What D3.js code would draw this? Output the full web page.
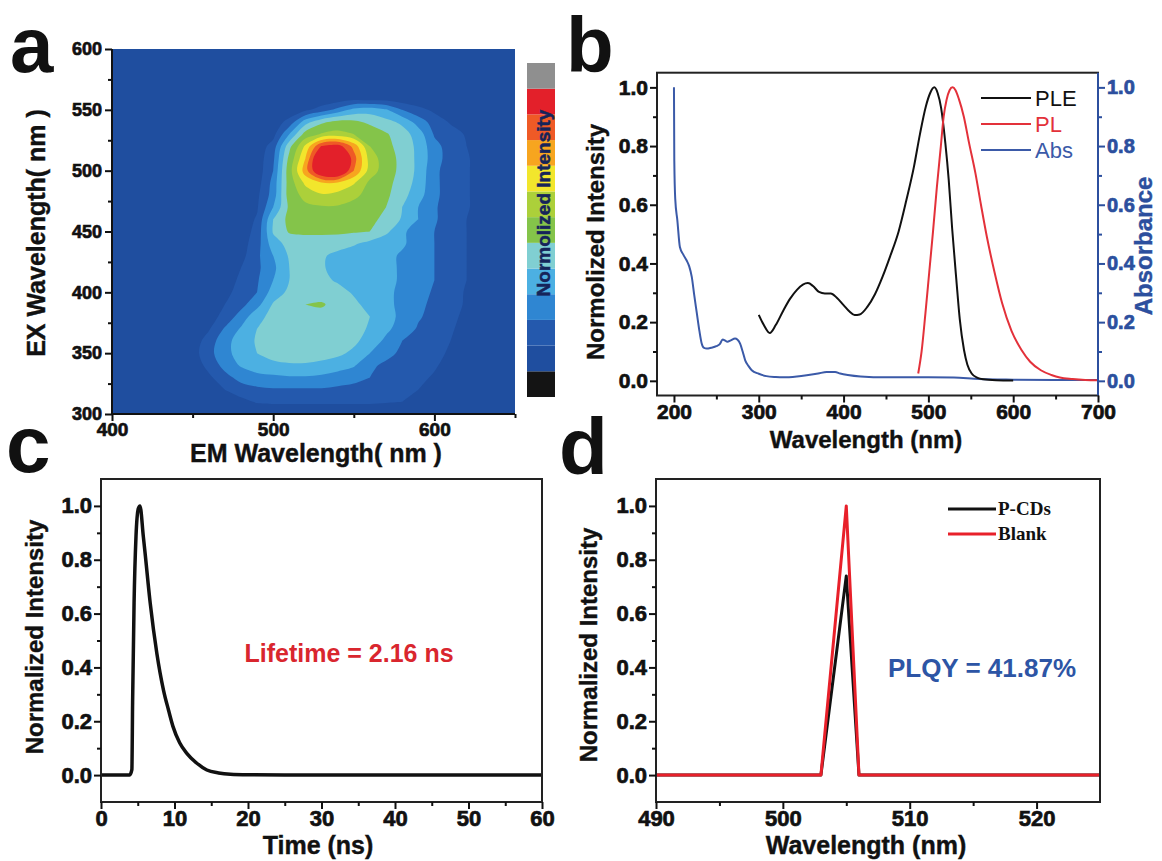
<!DOCTYPE html>
<html>
<head>
<meta charset="utf-8">
<script src="https://cdnjs.cloudflare.com/ajax/libs/d3/7.8.5/d3.min.js"></script>
<style>
  body { margin: 0; background: #fff; }
  svg { display: block; }
</style>
</head>
<body>
<svg id="fig" width="1162" height="861"></svg>
<script>
// ---------------- data ----------------
// (a) excitation–emission map, normalized intensity (%) on a 10 nm grid
const emGrid = [440,450,460,470,480,490,500,510,520,530,540,550,560,570,580,590,600,610,620,630,640];
const exGrid = [600,590,580,570,560,550,540,530,520,510,500,490,480,470,460,450,440,430,420,410,400,390,380,370,360,350,340,330,320,310,300];
const intensityGrid = [
  [0,0,0,0,0,0,0,0,0,0,0,0,0,0,0,0,0,0,0,0,0],
  [0,0,0,0,0,0,0,0,0,0,0,0,0,0,0,0,0,0,0,0,0],
  [0,0,0,0,0,0,0,0,0,0,0,0,0,0,0,0,0,0,0,0,0],
  [0,0,0,0,0,0,0,0,0,0,0,1,2,1,0,0,0,0,0,0,0],
  [0,0,0,0,0,0,0,0,0,1,2,4,3,3,2,1,0,0,0,0,0],
  [0,0,0,0,0,0,1,3,7,13,21,30,32,28,18,12,7,3,1,0,0],
  [0,0,0,0,0,1,4,12,32,43,48,47,43,39,34,23,14,8,4,1,0],
  [0,0,0,0,0,2,6,27,49,56,58,55,51,46,40,32,17,13,8,4,1],
  [0,0,0,0,0,3,13,42,66,92,96,79,55,48,41,34,21,14,9,5,1],
  [0,0,0,0,0,4,16,48,73,110,115,86,60,50,42,34,22,14,10,5,1],
  [0,0,0,0,0,4,18,51,78,105,108,82,60,50,42,34,20,14,10,5,1],
  [0,0,0,0,1,5,21,50,66,72,72,65,53,48,41,33,20,14,10,5,1],
  [0,0,0,0,2,7,22,50,58,63,61,57,52,47,39,31,20,14,10,5,1],
  [0,0,0,0,3,8,27,47,53,54,54,52,49,45,36,27,19,14,10,5,1],
  [0,0,0,1,4,10,36,48,52,52,52,50,47,43,35,27,19,14,9,5,1],
  [0,0,0,1,4,12,37,46,47,47,47,46,45,38,29,22,18,13,9,4,1],
  [0,0,0,2,5,14,32,39,40,40,39,37,33,30,28,24,18,13,9,4,1],
  [0,0,0,2,6,16,27,37,39,37,34,31,30,29,26,22,18,13,9,4,1],
  [0,0,1,3,9,16,25,36,39,37,33,31,30,29,26,22,18,13,9,4,1],
  [0,0,1,4,11,17,27,36,39,38,35,31,30,29,26,22,18,13,9,4,1],
  [0,0,2,6,13,18,31,38,41,41,39,35,31,29,25,21,17,13,8,4,1],
  [0,1,4,9,15,24,37,41,45,46,42,38,33,29,25,20,16,12,8,4,1],
  [0,1,5,12,22,33,39,41,42,42,41,39,36,30,25,19,15,11,7,3,0],
  [0,2,8,19,28,36,40,42,42,42,41,39,35,29,23,17,14,10,6,3,0],
  [0,4,13,24,31,37,40,41,41,41,40,38,32,25,18,15,12,9,5,2,0],
  [0,5,15,24,31,36,39,40,40,39,38,34,27,21,16,14,11,8,4,1,0],
  [0,3,12,21,28,32,34,35,35,34,31,28,20,16,14,12,10,6,3,0,0],
  [0,1,7,15,21,24,25,26,26,25,23,21,18,15,13,11,8,4,1,0,0],
  [0,0,3,9,14,16,17,17,17,17,16,15,14,13,11,9,6,3,0,0,0],
  [0,0,0,2,6,10,11,11,11,11,11,11,11,10,9,6,3,1,0,0,0],
  [0,0,0,0,0,0,0,0,0,0,0,0,0,0,0,0,0,0,0,0,0]
];
const levelThresholds = [9,18,27,36,45,55,64,73,82,91];
const backgroundColor = "#1f4e9f";
const levelColors = ["#2459ad","#2f86d2","#4cb0e2","#80cfd2","#84c44a","#acd03a","#f2e62c","#f7a51f","#ef5a26","#e3202a"];
const underColor = "#141414";
const overColor = "#8f8f8f";
const aXTicks = [400,500,600], aXMinor = [450,550,650];
const aYTicks = [300,350,400,450,500,550,600], aYMinor = [325,375,425,475,525,575];

// (b) excitation, emission and absorption spectra
const pleNm  = [300,306,313,320,329,337,345,352,358,364,371,378,385,392,400,407,413,419,428,437,446,455,465,474,483,490,497,502,507,511,515,520,524,528,533,537,542,546,551,558,565,580,600];
const pleVal = [0.225,0.19,0.163,0.19,0.24,0.28,0.31,0.328,0.333,0.323,0.303,0.298,0.298,0.283,0.258,0.236,0.224,0.226,0.252,0.295,0.355,0.425,0.51,0.615,0.73,0.84,0.935,0.98,1.0,0.98,0.93,0.81,0.684,0.52,0.343,0.21,0.105,0.055,0.025,0.01,0.005,0.002,0.001];
const plNm  = [488,492,496.5,501,505.5,510,514.7,518,521.4,525,528.5,532,536,541.8,548,555.5,562,569,578,587,598,609.8,620,632.6,645,655,670,685,700];
const plVal = [0.025,0.1,0.23,0.37,0.51,0.66,0.8,0.9,0.957,0.99,1.0,0.99,0.96,0.9,0.81,0.707,0.6,0.49,0.37,0.264,0.17,0.105,0.065,0.036,0.02,0.011,0.006,0.003,0.002];
const absNm  = [200,200.4,201.5,204,207,211,215,218,221,224,227,230,232.7,235.5,238.6,244,250,254,257.5,260,263,267,272,275,278,281,284,288,291.7,300,309,320,329,345,356.5,370,380,390,396,405,420,450,500,530,560,600,650,700];
const absVal = [1.0,0.75,0.62,0.547,0.456,0.43,0.41,0.39,0.354,0.29,0.23,0.17,0.127,0.112,0.11,0.113,0.118,0.125,0.141,0.138,0.133,0.138,0.144,0.14,0.127,0.1,0.07,0.05,0.036,0.024,0.016,0.013,0.012,0.015,0.019,0.025,0.03,0.03,0.025,0.02,0.015,0.012,0.012,0.011,0.006,0.004,0.003,0.003];
const bXTicks = [200,300,400,500,600,700], bXMinor = [250,350,450,550,650];
const intTicks = [0,0.2,0.4,0.6,0.8,1.0], intMinor = [0.1,0.3,0.5,0.7,0.9];

// (c) fluorescence decay
const decayTime = [0,2,3.9,4.2,4.3,4.5,4.76,5.08,5.3,5.76,6.0,6.7,7.6,8.5,9.2,9.8,10.7,11.7,13,14.4,16,17.6,20,25,30,40,50,60];
const decayVal  = [0,0,0,0.02,0.27,0.64,0.886,0.99,1.0,0.886,0.824,0.638,0.452,0.316,0.24,0.18,0.12,0.08,0.045,0.019,0.008,0.003,0.001,0,0,0,0,0];
const cXTicks = [0,10,20,30,40,50,60], cXMinor = [5,15,25,35,45,55];

// (d) quantum-yield scatter peaks
const qyNm     = [490,495,500,503,504,505,506,510,515,520,525];
const pcdsVal  = [0,0,0,0,0.37,0.74,0,0,0,0,0];
const blankVal = [0,0,0,0,0.5,1.0,0,0,0,0,0];
const dXTicks = [490,500,510,520], dXMinor = [495,505,515];

// ---------------- drawing ----------------
const FONT = "'Liberation Sans', Arial, Helvetica, sans-serif";
const svg = d3.select("#fig");
svg.append("rect").attr("width", 1162).attr("height", 861).attr("fill", "#fff");

function axis(g, kind, scale, majors, minors, fmt, fs, color, pad) {
  const make = {bottom: d3.axisBottom, left: d3.axisLeft, right: d3.axisRight}[kind];
  const gm = g.append("g").call(make(scale).tickValues(minors).tickSize(4).tickSizeOuter(0).tickFormat(""));
  const gM = g.append("g").call(make(scale).tickValues(majors).tickSize(7).tickSizeOuter(0).tickPadding(pad).tickFormat(fmt));
  [gm, gM].forEach(s => {
    s.select(".domain").remove();
    s.selectAll("line").attr("stroke", color).attr("stroke-width", 2);
  });
  gM.selectAll("text")
    .style("font-size", fs + "px").style("font-weight", "700")
    .style("font-family", FONT).attr("fill", color)
    .attr("stroke", color).attr("stroke-width", 0.7);
}

function label(txt, x, y, opt = {}) {
  const t = svg.append("text").text(txt).attr("x", x).attr("y", y)
    .style("font-family", opt.family || FONT).style("font-size", (opt.size || 24) + "px")
    .style("font-weight", opt.weight || "700").attr("fill", opt.color || "#111")
    .attr("text-anchor", opt.anchor || "middle");
  if (opt.heavy) t.attr("stroke", opt.color || "#111").attr("stroke-width", opt.heavy);
  if (opt.rotate) t.attr("transform", `rotate(-90,${x},${y})`);
  return t;
}

const f1 = d3.format(".1f");

// ===== panel a =====
const xA = d3.scaleLinear([400, 650], [112, 515]);
const yA = d3.scaleLinear([300, 600], [414, 49]);
svg.append("clipPath").attr("id", "clipA").append("rect")
  .attr("x", 112).attr("y", 49).attr("width", 403).attr("height", 365);
const gA = svg.append("g").attr("clip-path", "url(#clipA)");
gA.append("rect").attr("x", 112).attr("y", 49).attr("width", 403).attr("height", 365).attr("fill", backgroundColor);

const nCols = emGrid.length, nRows = exGrid.length;
const emStep = emGrid[1] - emGrid[0], exStep = exGrid[1] - exGrid[0];
const bands = d3.contours().size([nCols, nRows]).thresholds(levelThresholds)(intensityGrid.flat());
const toPx = ([gx, gy]) => [xA(emGrid[0] + (gx - 0.5) * emStep), yA(exGrid[0] + (gy - 0.5) * exStep)];
const ringLine = d3.line().curve(d3.curveCatmullRomClosed.alpha(0.5));
bands.forEach((band, k) => {
  const d = band.coordinates.map(poly =>
    poly.map(ring => ringLine(ring.slice(0, -1).map(toPx))).join("")).join("");
  if (d) gA.append("path").attr("d", d).attr("fill", levelColors[k]).attr("fill-rule", "evenodd");
});

svg.append("line").attr("x1", 112).attr("x2", 112).attr("y1", 49).attr("y2", 415).attr("stroke", "#111").attr("stroke-width", 2);
svg.append("line").attr("x1", 111).attr("x2", 515).attr("y1", 414).attr("y2", 414).attr("stroke", "#111").attr("stroke-width", 2);
axis(svg.append("g").attr("transform", "translate(0,414)"), "bottom", xA, aXTicks, aXMinor, d3.format("d"), 19, "#111", 2);
axis(svg.append("g").attr("transform", "translate(112,0)"), "left", yA, aYTicks, aYMinor, d3.format("d"), 18, "#111", 3);
label("EX Wavelength( nm )", 45, 233, {rotate: true, size: 25, heavy: 0.4});
label("EM Wavelength( nm )", 316, 462, {size: 25, heavy: 0.4});

// colour bar
const cbColors = [underColor, backgroundColor, ...levelColors, overColor];
const cbY = d3.scaleLinear([0, cbColors.length], [397, 63]);
svg.append("g").selectAll("rect").data(cbColors).join("rect")
  .attr("x", 527).attr("width", 28)
  .attr("y", (d, i) => cbY(i + 1)).attr("height", (d, i) => cbY(i) - cbY(i + 1))
  .attr("fill", d => d);
label("Normolized Intensity", 550, 203, {rotate: true, size: 19, color: "#16245a", heavy: 0.5});

// ===== panel b =====
const xB = d3.scaleLinear([180, 700], [657, 1098]);
const yB = d3.scaleLinear([-0.05, 1.05], [395.5, 72.7]);
const lineB = d3.line().x(d => xB(d[0])).y(d => yB(d[1])).curve(d3.curveMonotoneX);
const absColor = "#3b5aa8", plColor = "#e3313a", rightColor = "#2c4f9e";
svg.append("path").attr("d", lineB(d3.zip(absNm, absVal))).attr("fill", "none").attr("stroke", absColor).attr("stroke-width", 2);
svg.append("path").attr("d", lineB(d3.zip(pleNm, pleVal))).attr("fill", "none").attr("stroke", "#111").attr("stroke-width", 2);
svg.append("path").attr("d", lineB(d3.zip(plNm, plVal))).attr("fill", "none").attr("stroke", plColor).attr("stroke-width", 2);
svg.append("rect").attr("x", 657).attr("y", 72.7).attr("width", 441).attr("height", 322.8)
  .attr("fill", "none").attr("stroke", "#222").attr("stroke-width", 2);
svg.append("line").attr("x1", 1098).attr("x2", 1098).attr("y1", 72.7).attr("y2", 395.5).attr("stroke", rightColor).attr("stroke-width", 2);
axis(svg.append("g").attr("transform", "translate(0,395.5)"), "bottom", xB, bXTicks, bXMinor, d3.format("d"), 21, "#111", 2);
axis(svg.append("g").attr("transform", "translate(657,0)"), "left", yB, intTicks, intMinor, f1, 21, "#111", 2);
axis(svg.append("g").attr("transform", "translate(1098,0)"), "right", yB, intTicks, intMinor, f1, 20, rightColor, 2);
label("Normolized Intensity", 604, 242, {rotate: true, size: 24, heavy: 0.4});
label("Absorbance", 1152, 246, {rotate: true, size: 24, color: rightColor, heavy: 0.4});
label("Wavelength (nm)", 866, 448, {size: 24, heavy: 0.4});

// legend b
const legB = [["PLE", "#111"], ["PL", plColor], ["Abs", absColor]];
legB.forEach(([name, col], i) => {
  const y = 98 + i * 26;
  svg.append("line").attr("x1", 981).attr("x2", 1031).attr("y1", y).attr("y2", y).attr("stroke", col).attr("stroke-width", 2);
  label(name, 1035, y + 8, {anchor: "start", weight: "400", size: 22, color: col});
});

// ===== panel c =====
const xC = d3.scaleLinear([0, 60], [101, 542]);
const yC = d3.scaleLinear([-0.1, 1.1], [802, 479]);
const lineC = d3.line().x(d => xC(d[0])).y(d => yC(d[1])).curve(d3.curveMonotoneX);
svg.append("path").attr("d", lineC(d3.zip(decayTime, decayVal))).attr("fill", "none")
  .attr("stroke", "#111").attr("stroke-width", 3.5).attr("stroke-linejoin", "round");
svg.append("rect").attr("x", 101).attr("y", 479).attr("width", 441).attr("height", 323)
  .attr("fill", "none").attr("stroke", "#222").attr("stroke-width", 2);
axis(svg.append("g").attr("transform", "translate(0,802)"), "bottom", xC, cXTicks, cXMinor, d3.format("d"), 22, "#111", 1);
axis(svg.append("g").attr("transform", "translate(101,0)"), "left", yC, intTicks, intMinor, f1, 22, "#111", 2);
label("Normalized Intensity", 43, 637, {rotate: true, size: 24, heavy: 0.4});
label("Time (ns)", 318, 854, {size: 25, heavy: 0.4});
label("Lifetime = 2.16 ns", 349, 662, {size: 25, color: "#d9262e"});

// ===== panel d =====
const xD = d3.scaleLinear([490, 525], [656, 1100]);
const yD = d3.scaleLinear([-0.1, 1.1], [802, 479]);
const lineD = d3.line().x(d => xD(d[0])).y(d => yD(d[1]));
svg.append("path").attr("d", lineD(d3.zip(qyNm, pcdsVal))).attr("fill", "none")
  .attr("stroke", "#111").attr("stroke-width", 3).attr("stroke-linejoin", "round");
svg.append("path").attr("d", lineD(d3.zip(qyNm, blankVal))).attr("fill", "none")
  .attr("stroke", "#e8202a").attr("stroke-width", 3).attr("stroke-linejoin", "round");
svg.append("rect").attr("x", 656).attr("y", 479).attr("width", 444).attr("height", 323)
  .attr("fill", "none").attr("stroke", "#222").attr("stroke-width", 2);
axis(svg.append("g").attr("transform", "translate(0,802)"), "bottom", xD, dXTicks, dXMinor, d3.format("d"), 22, "#111", 1);
axis(svg.append("g").attr("transform", "translate(656,0)"), "left", yD, intTicks, intMinor, f1, 22, "#111", 2);
label("Normalized Intensity", 597, 645, {rotate: true, size: 24, heavy: 0.4});
label("Wavelength (nm)", 866, 854, {size: 25, heavy: 0.4});
label("PLQY = 41.87%", 982, 677, {size: 26, color: "#2d55a5"});
const legD = [["P-CDs", "#111"], ["Blank", "#e8202a"]];
legD.forEach(([name, col], i) => {
  const y = 509 + i * 25;
  svg.append("line").attr("x1", 948).attr("x2", 996).attr("y1", y).attr("y2", y).attr("stroke", col).attr("stroke-width", 3);
  label(name, 998, y + 6, {anchor: "start", size: 19, family: "'Liberation Serif', 'Times New Roman', serif", color: "#111"});
});

// panel letters
label("a", 10, 72, {anchor: "start", size: 78});
label("b", 566, 72, {anchor: "start", size: 78});
label("c", 6, 472, {anchor: "start", size: 80});
label("d", 559, 474, {anchor: "start", size: 80});
</script>
</body>
</html>
